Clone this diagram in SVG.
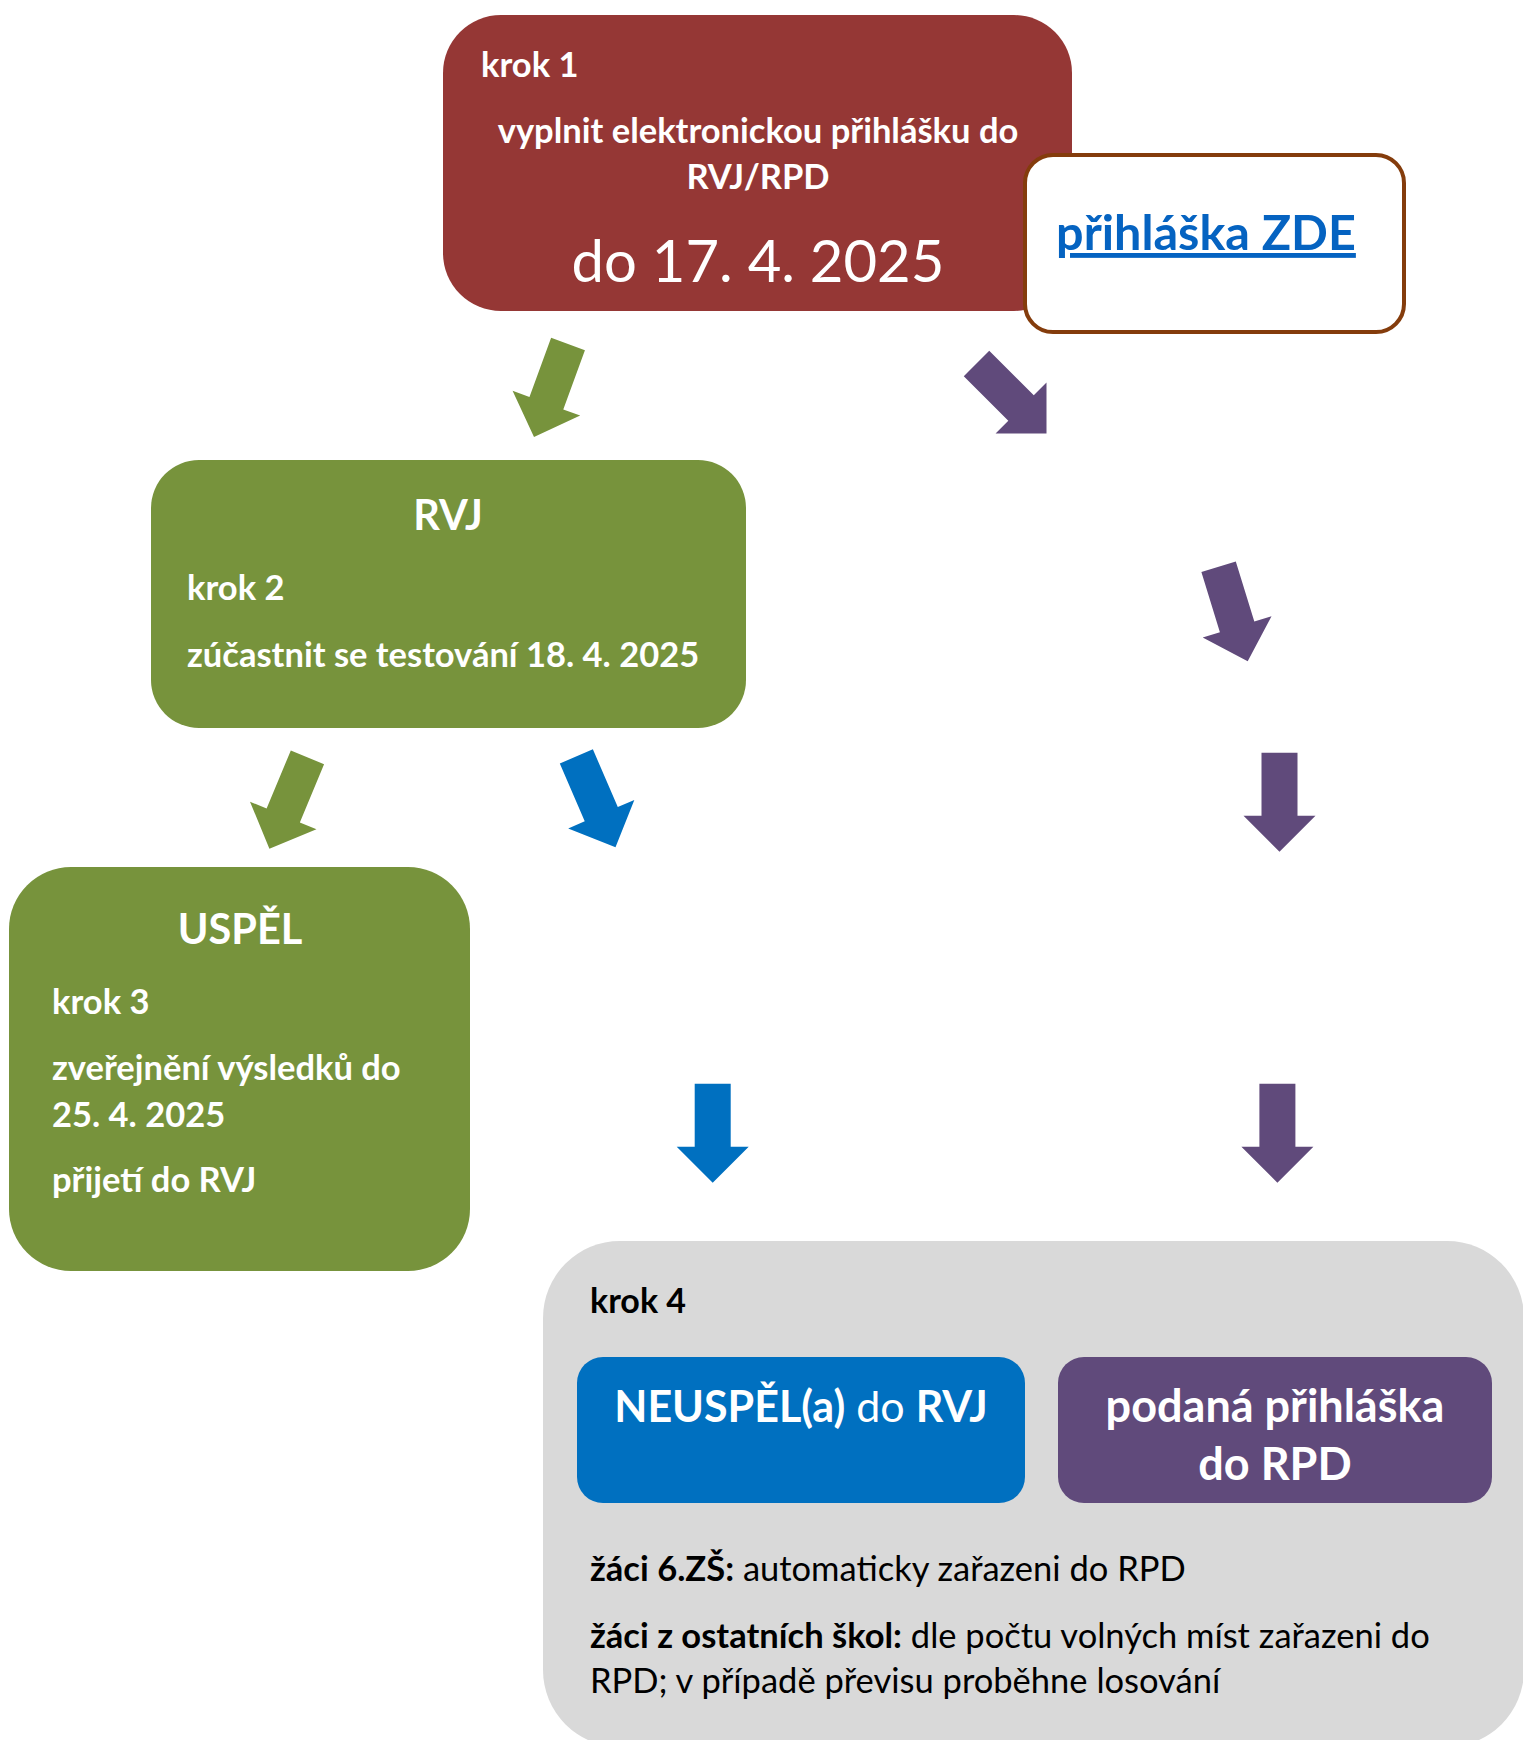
<svg xmlns="http://www.w3.org/2000/svg" xmlns:xlink="http://www.w3.org/1999/xlink" width="1523" height="1740" viewBox="0 0 1523 1740">
<style>
text{font-family:Lato,"Noto Sans",sans-serif}
.w{fill:#ffffff}
.b{font-weight:700}
.body{font-size:34.5px}
.big{font-size:41.5px}
.k{fill:#000000}
.small{font-size:34.5px}
</style>
<defs>
<path id="arr" d="M-18,-99 L18,-99 L18,-36 L36,-36 L0,0 L-36,-36 L-18,-36 Z"/>
</defs>
<rect x="0" y="0" width="1523" height="1740" fill="#ffffff"/>
<g id="step4">
<rect x="543" y="1241" width="981" height="506" rx="77" ry="77" fill="#D9D9D9"/>
<text x="590" y="1313" class="k b" font-size="34">krok 4</text>
<text x="590" y="1581" class="k small"><tspan font-weight="700">žáci 6.ZŠ:</tspan> automaticky zařazeni do RPD</text>
<text x="590" y="1648" class="k small"><tspan font-weight="700">žáci z ostatních škol:</tspan> dle počtu volných míst zařazeni do</text>
<text x="590" y="1693" class="k small">RPD; v případě převisu proběhne losování</text>
</g>
<g id="neuspel">
<rect x="577" y="1357" width="448" height="146" rx="26" ry="26" fill="#0070C0"/>
<text x="801" y="1422" class="w" font-size="43" text-anchor="middle"><tspan font-weight="700">NEUSPĚL(a)</tspan> do <tspan font-weight="700">RVJ</tspan></text>
</g>
<g id="rpd">
<rect x="1058" y="1357" width="434" height="146" rx="26" ry="26" fill="#604A7B"/>
<text x="1275" y="1422" class="w b" font-size="45" text-anchor="middle">podaná přihláška</text>
<text x="1275" y="1480" class="w b" font-size="45" text-anchor="middle">do RPD</text>
</g>
<g id="step1">
<rect x="443" y="15" width="629" height="296" rx="58" ry="58" fill="#953735"/>
<text x="481" y="77" class="w b body">krok 1</text>
<text x="758" y="143" class="w b body" text-anchor="middle">vyplnit elektronickou přihlášku do</text>
<text x="758" y="189" class="w b body" text-anchor="middle">RVJ/RPD</text>
<text x="758" y="282" class="w" font-size="58" text-anchor="middle">do 17. 4. 2025</text>
</g>
<g id="link">
<rect x="1025" y="155" width="379" height="177" rx="28" ry="28" fill="#ffffff" stroke="#843C0C" stroke-width="4"/>
<text x="1206" y="250" font-size="48.5" font-weight="700" fill="#0563C1" text-anchor="middle" text-decoration="underline">přihláška ZDE</text>
</g>
<g id="rvj">
<rect x="151" y="460" width="595" height="268" rx="48" ry="48" fill="#77933C"/>
<text x="448" y="530" class="w b big" text-anchor="middle">RVJ</text>
<text x="187" y="600" class="w b body">krok 2</text>
<text x="187" y="667" class="w b body">zúčastnit se testování 18. 4. 2025</text>
</g>
<g id="uspel">
<rect x="9" y="867" width="461" height="404" rx="62" ry="62" fill="#77933C"/>
<text x="240" y="944" class="w b big" text-anchor="middle">USPĚL</text>
<text x="52" y="1014" class="w b body">krok 3</text>
<text x="52" y="1080" class="w b body">zveřejnění výsledků do</text>
<text x="52" y="1127" class="w b body">25. 4. 2025</text>
<text x="52" y="1192" class="w b body">přijetí do RVJ</text>
</g>
<g id="connectors">
<use xlink:href="#arr" href="#arr" fill="#77933C" transform="translate(534,437) rotate(20.1)"/>
<use xlink:href="#arr" href="#arr" fill="#604A7B" transform="translate(1046.5,433.5) rotate(-45)"/>
<use xlink:href="#arr" href="#arr" fill="#77933C" transform="translate(269.4,848.7) rotate(22.6)"/>
<use xlink:href="#arr" href="#arr" fill="#0070C0" transform="translate(615.5,847.3) rotate(-23.3)"/>
<use xlink:href="#arr" href="#arr" fill="#604A7B" transform="translate(1247.7,661.3) rotate(-17.1)"/>
<use xlink:href="#arr" href="#arr" fill="#604A7B" transform="translate(1279.5,851.7)"/>
<use xlink:href="#arr" href="#arr" fill="#0070C0" transform="translate(712.7,1182.7)"/>
<use xlink:href="#arr" href="#arr" fill="#604A7B" transform="translate(1277.4,1182.7)"/>
</g>
</svg>
